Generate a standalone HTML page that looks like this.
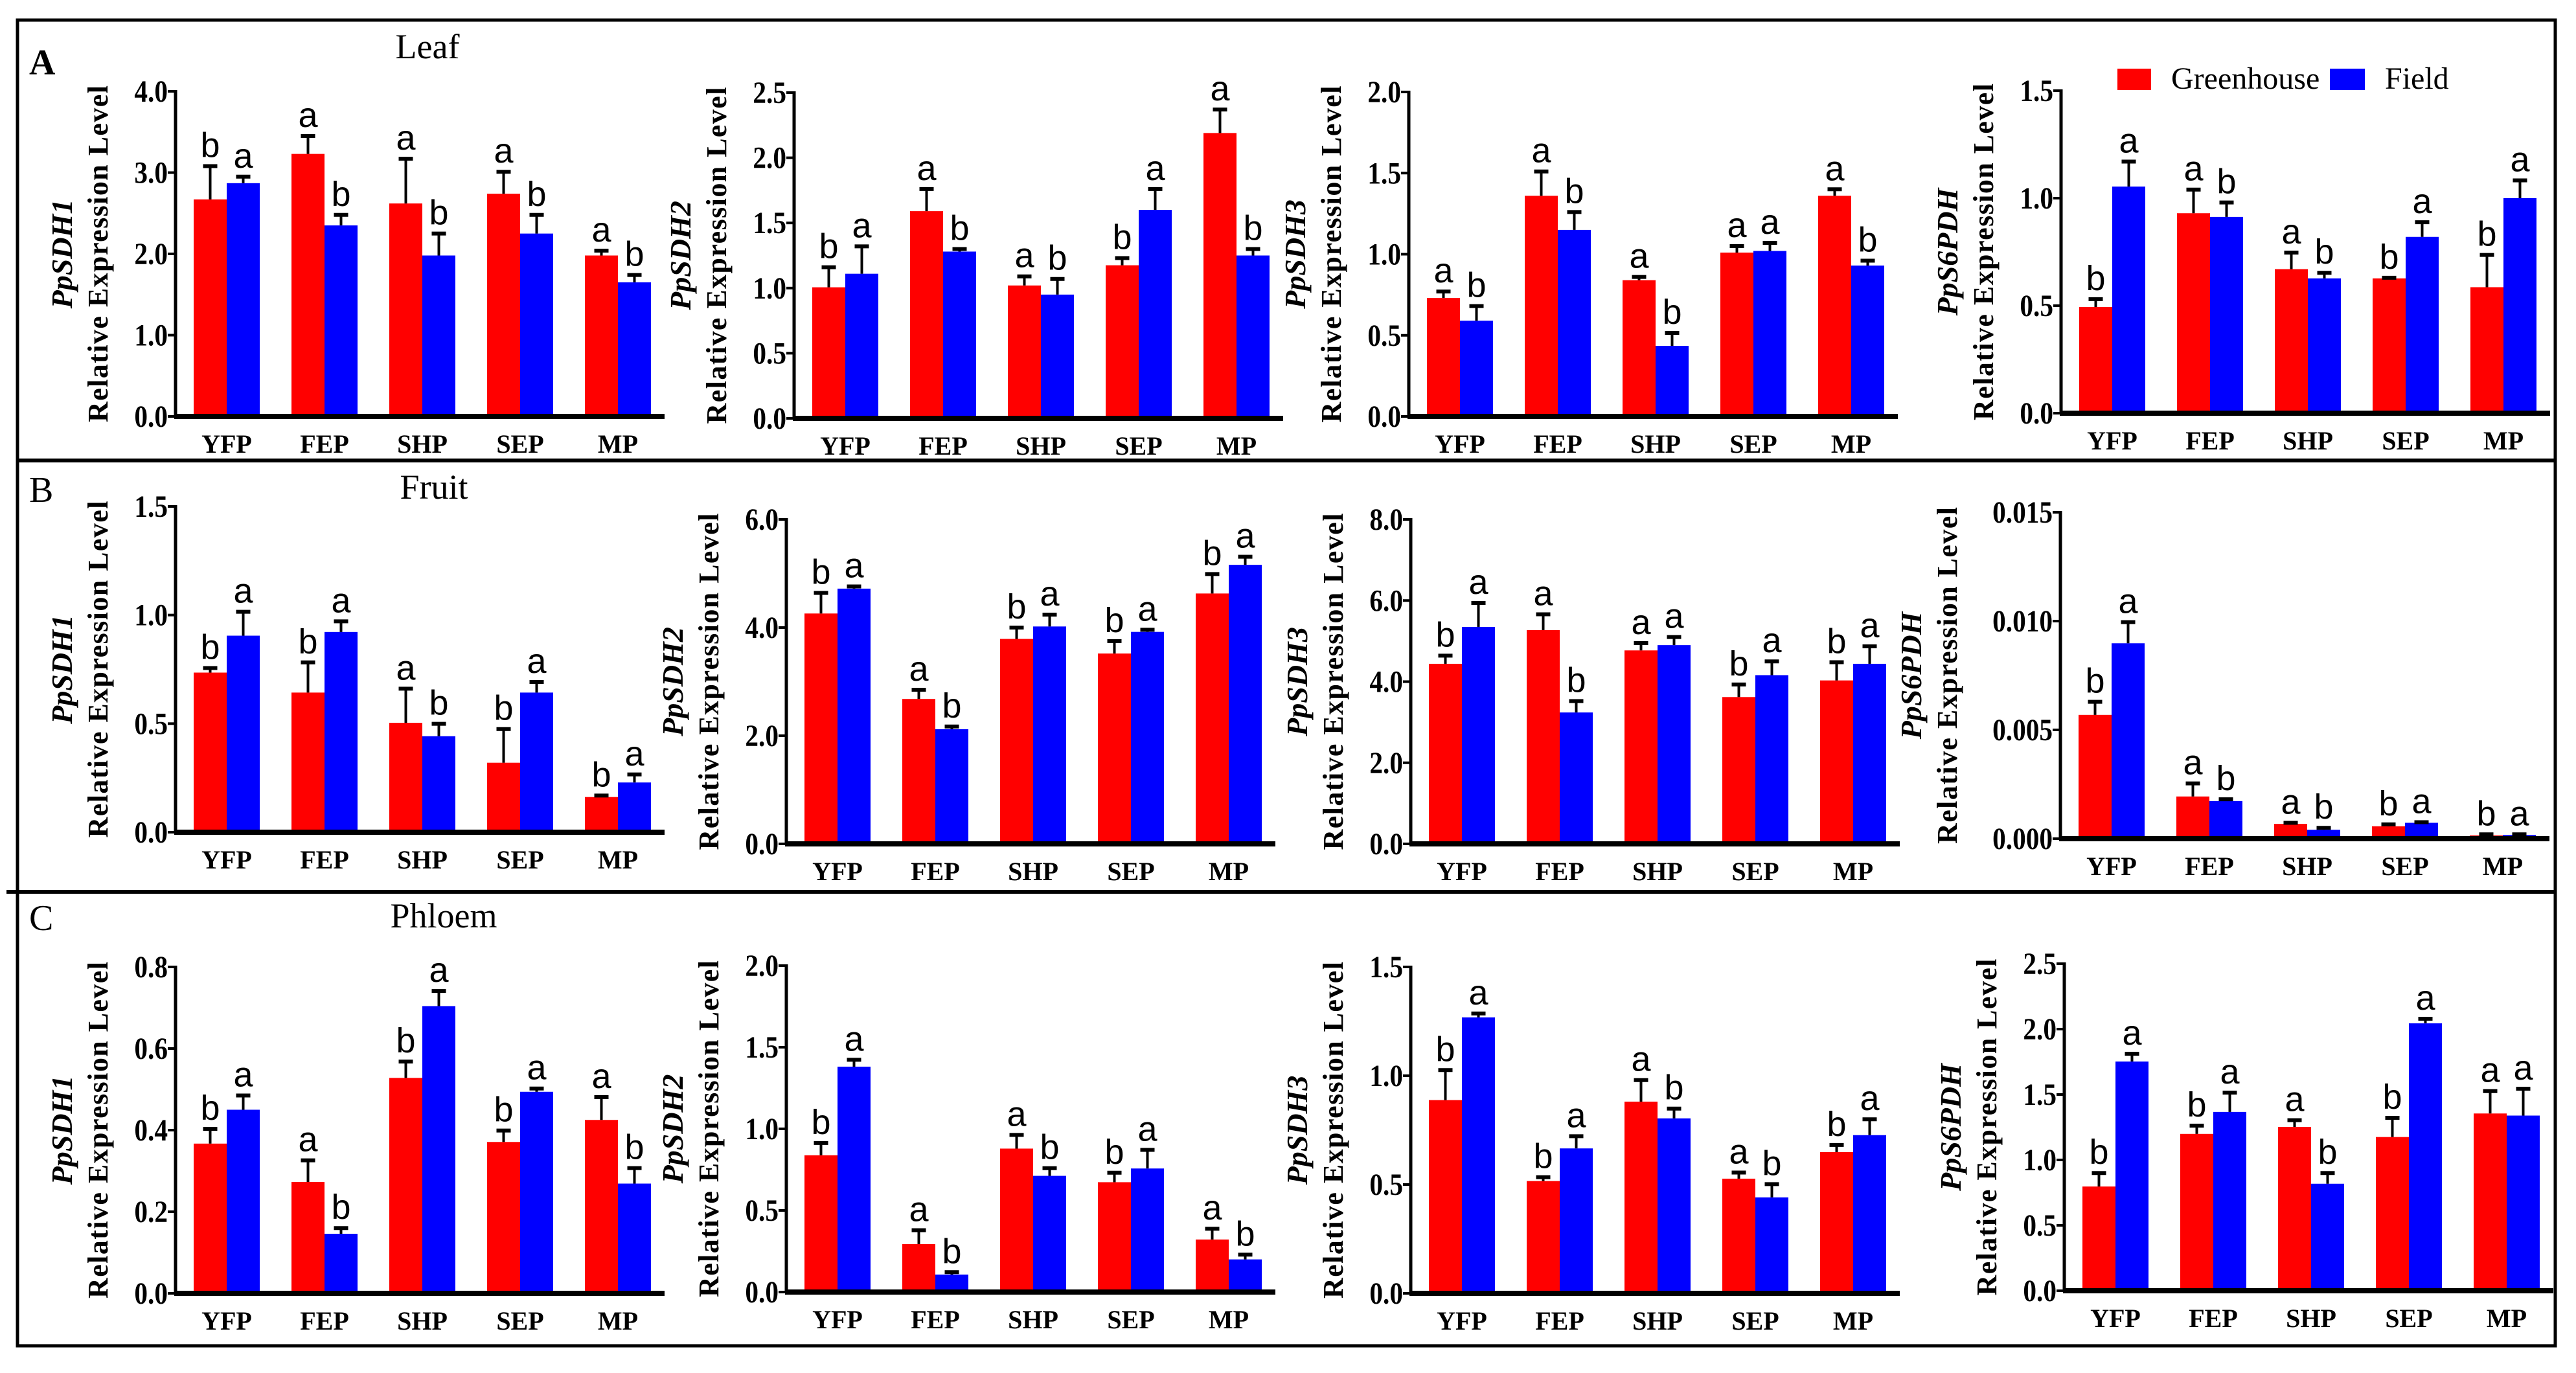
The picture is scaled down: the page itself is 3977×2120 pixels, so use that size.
<!DOCTYPE html>
<html><head><meta charset="utf-8"><style>
body{margin:0;background:#fff}
svg{display:block}
.tk{font-family:"Liberation Serif",serif;font-weight:bold;font-size:48px}
.ct{font-family:"Liberation Serif",serif;font-weight:bold;font-size:40px}
.lt{font-family:"Liberation Sans",sans-serif;font-size:54px}
.yl{font-family:"Liberation Serif",serif;font-weight:bold;font-size:44px}
.gn{font-family:"Liberation Serif",serif;font-weight:bold;font-style:italic;font-size:46px}
.ti{font-family:"Liberation Serif",serif;font-size:54px}
</style></head><body>
<svg id="fig" width="3977" height="2120" viewBox="0 0 3977 2120" xmlns="http://www.w3.org/2000/svg">
<rect x="27" y="31" width="3918" height="2047" fill="none" stroke="#000" stroke-width="5"/>
<line x1="27" y1="711" x2="3945" y2="711" stroke="#000" stroke-width="6"/>
<line x1="10" y1="1377" x2="3945" y2="1377" stroke="#000" stroke-width="6"/>
<text x="45" y="115" font-family="Liberation Serif,serif" font-weight="bold" font-size="56">A</text>
<text x="45" y="775" font-family="Liberation Serif,serif" font-size="56">B</text>
<text x="45" y="1436" font-family="Liberation Serif,serif" font-size="56">C</text>
<text class="ti" x="660" y="90" text-anchor="middle">Leaf</text>
<text class="ti" x="670" y="770" text-anchor="middle">Fruit</text>
<text class="ti" x="685" y="1432" text-anchor="middle">Phloem</text>
<g>
<rect x="3269" y="106" width="52" height="33" fill="#ff0000"/>
<text x="3352" y="137" font-family="Liberation Serif,serif" font-size="48">Greenhouse</text>
<rect x="3597" y="106" width="54" height="33" fill="#0000ff"/>
<text x="3682" y="137" font-family="Liberation Serif,serif" font-size="48">Field</text>
</g>
</svg>
<script>
const categories = ["YFP","FEP","SHP","SEP","MP"];
// Row A leaf
const aSDH1Red=[2.67,3.23,2.62,2.74,1.98], aSDH1RedErr=[3.08,3.45,3.17,3.01,2.04];
const aSDH1Blue=[2.87,2.35,1.98,2.25,1.65], aSDH1BlueErr=[2.95,2.48,2.25,2.48,1.74];
const aSDH1LR=["b","a","a","a","a"], aSDH1LB=["a","b","b","b","b"];
const aSDH2Red=[1.006,1.59,1.02,1.175,2.19], aSDH2RedErr=[1.16,1.76,1.09,1.23,2.37];
const aSDH2Blue=[1.11,1.28,0.95,1.60,1.25], aSDH2BlueErr=[1.32,1.30,1.07,1.76,1.30];
const aSDH2LR=["b","a","a","b","a"], aSDH2LB=["a","b","b","a","b"];
const aSDH3Red=[0.73,1.36,0.84,1.01,1.36], aSDH3RedErr=[0.77,1.51,0.86,1.05,1.40];
const aSDH3Blue=[0.59,1.15,0.435,1.02,0.93], aSDH3BlueErr=[0.68,1.26,0.515,1.07,0.96];
const aSDH3LR=["a","a","a","a","a"], aSDH3LB=["b","b","b","a","b"];
const aS6Red=[0.494,0.93,0.67,0.627,0.586], aS6RedErr=[0.53,1.04,0.747,0.63,0.736];
const aS6Blue=[1.054,0.913,0.627,0.82,1.0], aS6BlueErr=[1.17,0.98,0.653,0.888,1.083];
const aS6LR=["b","a","a","b","b"], aS6LB=["a","b","b","a","a"];
// Row B fruit
const bSDH1Red=[0.735,0.643,0.504,0.32,0.162], bSDH1RedErr=[0.756,0.782,0.661,0.475,0.169];
const bSDH1Blue=[0.905,0.922,0.442,0.643,0.229], bSDH1BlueErr=[1.015,0.971,0.499,0.692,0.266];
const bSDH1LR=["b","b","a","b","b"], bSDH1LB=["a","a","b","a","a"];
const bSDH2Red=[4.26,2.68,3.79,3.52,4.63], bSDH2RedErr=[4.64,2.85,4.0,3.75,4.99];
const bSDH2Blue=[4.72,2.12,4.02,3.92,5.16], bSDH2BlueErr=[4.76,2.17,4.24,3.96,5.31];
const bSDH2LR=["b","a","b","b","b"], bSDH2LB=["a","b","a","a","a"];
const bSDH3Red=[4.44,5.27,4.77,3.62,4.03], bSDH3RedErr=[4.64,5.66,4.95,3.93,4.48];
const bSDH3Blue=[5.35,3.24,4.90,4.16,4.44], bSDH3BlueErr=[5.94,3.52,5.10,4.50,4.87];
const bSDH3LR=["b","a","a","b","b"], bSDH3LB=["a","b","a","a","a"];
const bS6Red=[0.00569,0.00194,0.00068,0.00057,0.00015], bS6RedErr=[0.00629,0.00254,0.00073,0.00066,0.0002];
const bS6Blue=[0.00898,0.00173,0.00041,0.00073,0.00017], bS6BlueErr=[0.00995,0.00181,0.0005,0.00076,0.0002];
const bS6LR=["b","a","a","b","b"], bS6LB=["a","b","b","a","a"];
// Row C phloem
const cSDH1Red=[0.367,0.273,0.528,0.371,0.425], cSDH1RedErr=[0.403,0.326,0.568,0.399,0.481];
const cSDH1Blue=[0.45,0.146,0.704,0.494,0.269], cSDH1BlueErr=[0.485,0.16,0.741,0.502,0.307];
const cSDH1LR=["b","a","b","b","a"], cSDH1LB=["a","b","a","a","b"];
const cSDH2Red=[0.838,0.294,0.879,0.673,0.322], cSDH2RedErr=[0.913,0.379,0.963,0.731,0.388];
const cSDH2Blue=[1.381,0.107,0.712,0.757,0.2], cSDH2BlueErr=[1.423,0.122,0.759,0.871,0.229];
const cSDH2LR=["b","a","a","b","a"], cSDH2LB=["a","b","b","a","b"];
const cSDH3Red=[0.888,0.516,0.881,0.527,0.649], cSDH3RedErr=[1.026,0.534,0.98,0.555,0.682];
const cSDH3Blue=[1.268,0.666,0.804,0.441,0.727], cSDH3BlueErr=[1.286,0.722,0.849,0.502,0.8];
const cSDH3LR=["b","b","a","a","b"], cSDH3LB=["a","a","b","b","a"];
const cS6Red=[0.797,1.199,1.252,1.175,1.355], cS6RedErr=[0.9,1.262,1.304,1.322,1.526];
const cS6Blue=[1.752,1.367,0.818,2.044,1.339], cS6BlueErr=[1.811,1.514,0.9,2.079,1.544];
const cS6LR=["b","b","a","b","a"], cS6LB=["a","a","b","a","a"];
// tick labels
const ticks40=["0.0","1.0","2.0","3.0","4.0"];
const ticks25=["0.0","0.5","1.0","1.5","2.0","2.5"];
const ticks20=["0.0","0.5","1.0","1.5","2.0"];
const ticks15=["0.0","0.5","1.0","1.5"];
const ticks60=["0.0","2.0","4.0","6.0"];
const ticks80=["0.0","2.0","4.0","6.0","8.0"];
const ticks015=["0.000","0.005","0.010","0.015"];
const ticks08=["0.0","0.2","0.4","0.6","0.8"];

const NS="http://www.w3.org/2000/svg";
const svg=document.getElementById('fig');
function mk(tag,attrs,parent){const e=document.createElementNS(NS,tag);for(const k in attrs)e.setAttribute(k,attrs[k]);(parent||svg).appendChild(e);return e;}

const panels=[
 {id:"a-sdh1",gene:"PpSDH1",ax:271,top:141,zero:643,ticks:ticks40,r:aSDH1Red,re:aSDH1RedErr,b:aSDH1Blue,be:aSDH1BlueErr,lr:aSDH1LR,lb:aSDH1LB},
 {id:"a-sdh2",gene:"PpSDH2",ax:1226,top:143,zero:646,ticks:ticks25,r:aSDH2Red,re:aSDH2RedErr,b:aSDH2Blue,be:aSDH2BlueErr,lr:aSDH2LR,lb:aSDH2LB},
 {id:"a-sdh3",gene:"PpSDH3",ax:2175,top:142,zero:643,ticks:ticks20,r:aSDH3Red,re:aSDH3RedErr,b:aSDH3Blue,be:aSDH3BlueErr,lr:aSDH3LR,lb:aSDH3LB},
 {id:"a-s6pdh",gene:"PpS6PDH",ax:3182,top:140,zero:638,ticks:ticks15,r:aS6Red,re:aS6RedErr,b:aS6Blue,be:aS6BlueErr,lr:aS6LR,lb:aS6LB},
 {id:"b-sdh1",gene:"PpSDH1",ax:271,top:782,zero:1285,ticks:ticks15,r:bSDH1Red,re:bSDH1RedErr,b:bSDH1Blue,be:bSDH1BlueErr,lr:bSDH1LR,lb:bSDH1LB},
 {id:"b-sdh2",gene:"PpSDH2",ax:1214,top:802,zero:1303,ticks:ticks60,r:bSDH2Red,re:bSDH2RedErr,b:bSDH2Blue,be:bSDH2BlueErr,lr:bSDH2LR,lb:bSDH2LB},
 {id:"b-sdh3",gene:"PpSDH3",ax:2178,top:802,zero:1303,ticks:ticks80,r:bSDH3Red,re:bSDH3RedErr,b:bSDH3Blue,be:bSDH3BlueErr,lr:bSDH3LR,lb:bSDH3LB},
 {id:"b-s6pdh",gene:"PpS6PDH",ax:3181,top:791,zero:1295,ticks:ticks015,r:bS6Red,re:bS6RedErr,b:bS6Blue,be:bS6BlueErr,lr:bS6LR,lb:bS6LB},
 {id:"c-sdh1",gene:"PpSDH1",ax:271,top:1493,zero:1997,ticks:ticks08,r:cSDH1Red,re:cSDH1RedErr,b:cSDH1Blue,be:cSDH1BlueErr,lr:cSDH1LR,lb:cSDH1LB},
 {id:"c-sdh2",gene:"PpSDH2",ax:1214,top:1491,zero:1995,ticks:ticks20,r:cSDH2Red,re:cSDH2RedErr,b:cSDH2Blue,be:cSDH2BlueErr,lr:cSDH2LR,lb:cSDH2LB},
 {id:"c-sdh3",gene:"PpSDH3",ax:2178,top:1493,zero:1997,ticks:ticks15,r:cSDH3Red,re:cSDH3RedErr,b:cSDH3Blue,be:cSDH3BlueErr,lr:cSDH3LR,lb:cSDH3LB},
 {id:"c-s6pdh",gene:"PpS6PDH",ax:3187,top:1488,zero:1993,ticks:ticks25,r:cS6Red,re:cS6RedErr,b:cS6Blue,be:cS6BlueErr,lr:cS6LR,lb:cS6LB}
];

panels.forEach(p=>{
  const g=mk('g',{});
  
  
  const maxV=parseFloat(p.ticks[p.ticks.length-1]);
  const y=v=>p.zero-(v/maxV)*(p.zero-p.top);
  const W=755, step=151, bw=51;
  const cx=i=>p.ax+79+step*i;
  categories.forEach((c,i)=>{
    [[p.r,p.re,p.lr,'#ff0000',-1,'greenhouse'],[p.b,p.be,p.lb,'#0000ff',0,'field']].forEach(s=>{
      const v=s[0][i], e=s[1][i];
      const x0=cx(i)+s[4]*bw;
      const r=mk('rect',{x:x0,y:y(v),width:bw,height:p.zero-y(v),fill:s[3]},g);
      
      
      const xm=x0+bw/2;
      const l=mk('line',{x1:xm,y1:y(v),x2:xm,y2:y(e),stroke:'#000','stroke-width':4},g);
      
      
      const cap=mk('line',{x1:xm-11,y1:y(e),x2:xm+11,y2:y(e),stroke:'#000','stroke-width':6},g);
      
      
      const t=mk('text',{x:xm,y:y(e)-14,'text-anchor':'middle',class:'lt'},g);
      t.textContent=s[2][i];
      
      
    });
    const ct=mk('text',{x:cx(i),y:p.zero+56,'text-anchor':'middle',class:'ct'},g);
    ct.textContent=c;
    
    
  });
  const ya=mk('line',{x1:p.ax,y1:p.top-2,x2:p.ax,y2:p.zero,stroke:'#000','stroke-width':5},g);
  
  
  const xa=mk('line',{x1:p.ax-2,y1:p.zero,x2:p.ax+W,y2:p.zero,stroke:'#000','stroke-width':8},g);
  
  
  p.ticks.forEach(tv=>{
    const v=parseFloat(tv);
    const tl=mk('line',{x1:p.ax-12,y1:y(v),x2:p.ax,y2:y(v),stroke:'#000','stroke-width':4},g);
    
    
    const tx=p.ax-12, ty=y(v)+16;
    const tt=mk('text',{x:0,y:0,'text-anchor':'end',class:'tk',transform:`translate(${tx} ${ty}) scale(0.86 1)`},g);
    tt.textContent=tv;
    
    
  });
  const mid=(p.top+p.zero)/2;
  const xl=p.ax-(p.ticks[0].length>3?160:105);
  const yl=mk('text',{x:xl,y:mid,'text-anchor':'middle',class:'yl',transform:`rotate(-90 ${xl} ${mid})`,textLength:520,lengthAdjust:'spacing'},g);
  yl.textContent='Relative Expression Level';
  
  
  const gx=xl-55;
  const gn=mk('text',{x:gx,y:mid,'text-anchor':'middle',class:'gn',transform:`rotate(-90 ${gx} ${mid})`},g);
  gn.textContent=p.gene;
  
  
});
</script>
</body></html>
